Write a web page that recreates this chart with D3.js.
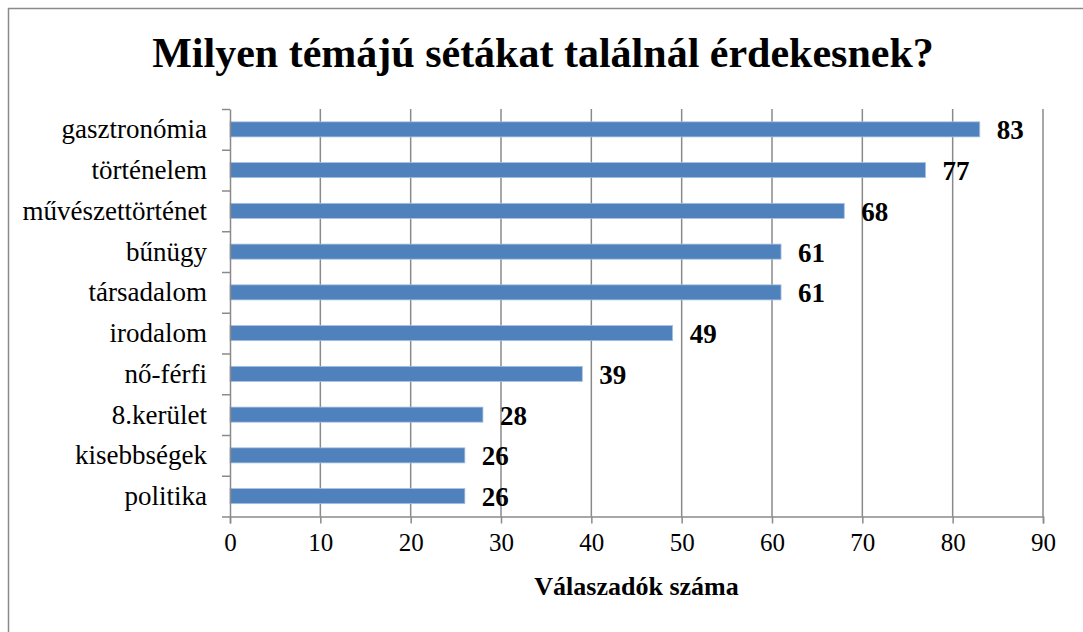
<!DOCTYPE html>
<html>
<head>
<meta charset="utf-8">
<script src="https://cdn.jsdelivr.net/npm/d3@7"></script>
<style>
    body { margin: 0; background: #fff; }
</style>
</head>
<body>
<div id="chart"></div>
<script>

// chart data (top to bottom)
let categories = ["gasztronómia", "történelem", "művészettörténet", "bűnügy", "társadalom",
    "irodalom", "nő-férfi", "8.kerület", "kisebbségek", "politika"];
let counts = [83, 77, 68, 61, 61, 49, 39, 28, 26, 26];
let xTicks = [0, 10, 20, 30, 40, 50, 60, 70, 80, 90];

let chartTitle = "Milyen témájú sétákat találnál érdekesnek?";
let xTitle = "Válaszadók száma";

let serif = "Liberation Serif";
let width = 1083, height = 632;
let plot = { left: 230, right: 1043, top: 109, bottom: 516.5 };

let svg = d3.select("#chart").append("svg")
    .attr("width", width)
    .attr("height", height);

// outer frame (runs off the right and bottom edges)
svg.append("rect")
    .attr("x", 8.5)
    .attr("y", 8.5)
    .attr("width", width + 20)
    .attr("height", height + 20)
    .attr("fill", "none")
    .attr("stroke", "#8a8a8a")
    .attr("stroke-width", 1.5);

// Scales
let x = d3.scaleLinear()
    .domain([0, 90])
    .range([plot.left, plot.right]);

let y = d3.scaleBand()
    .domain(categories)
    .range([plot.top, plot.bottom])
    .paddingInner(0.63)
    .paddingOuter(0.315);

let yEdge = d3.scaleLinear()
    .domain([0, categories.length])
    .range([plot.top, plot.bottom]);

// vertical gridlines
svg.append("g")
    .attr("class", "grid")
    .selectAll("line")
    .data(xTicks.slice(1))
    .enter()
    .append("line")
    .attr("x1", d => x(d))
    .attr("x2", d => x(d))
    .attr("y1", plot.top)
    .attr("y2", plot.bottom)
    .attr("stroke", "#8a8a8a")
    .attr("stroke-width", 1.5);

// bars
svg.append("g")
    .selectAll("rect")
    .data(counts)
    .enter()
    .append("rect")
    .attr("x", x(0))
    .attr("y", (d, i) => y(categories[i]))
    .attr("width", d => x(d) - x(0))
    .attr("height", y.bandwidth())
    .attr("fill", "#4f81bd")
    .attr("stroke", "#a9c1e0")
    .attr("stroke-width", 0.8);

// x axis
let xAxis = d3.axisBottom(x)
    .tickValues(xTicks)
    .tickSize(7)
    .tickPadding(10);

let gx = svg.append("g")
    .attr("transform", "translate(0," + plot.bottom + ")")
    .call(xAxis);
gx.select(".domain").attr("stroke", "#8a8a8a").attr("stroke-width", 1.5);
gx.selectAll(".tick line").attr("stroke", "#8a8a8a").attr("stroke-width", 1.5);
gx.selectAll(".tick text")
    .style("font-family", serif)
    .style("font-size", "25px")
    .attr("fill", "#000")
    .attr("dy", "0.71em");

// y axis with ticks between categories
let yAxis = d3.axisLeft(yEdge)
    .tickValues(d3.range(categories.length + 1))
    .tickFormat("")
    .tickSize(8)
    .tickSizeOuter(0);

let gy = svg.append("g")
    .attr("transform", "translate(" + plot.left + ",0)")
    .call(yAxis);
gy.select(".domain").attr("stroke", "#8a8a8a").attr("stroke-width", 1.5);
gy.selectAll(".tick line").attr("stroke", "#8a8a8a").attr("stroke-width", 1.5);

// category labels
svg.append("g")
    .selectAll("text")
    .data(categories)
    .enter()
    .append("text")
    .attr("x", plot.left - 23)
    .attr("y", d => y(d) + y.bandwidth() / 2 + 9)
    .attr("text-anchor", "end")
    .style("font-family", serif)
    .style("font-size", "27px")
    .text(d => d);

// value labels
svg.append("g")
    .selectAll("text")
    .data(counts)
    .enter()
    .append("text")
    .attr("x", d => x(d) + 17)
    .attr("y", (d, i) => y(categories[i]) + y.bandwidth() / 2 + 10)
    .style("font-family", serif)
    .style("font-size", "27px")
    .style("font-weight", "bold")
    .text(d => d);

// titles
svg.append("text")
    .attr("x", 543)
    .attr("y", 67)
    .attr("text-anchor", "middle")
    .style("font-family", serif)
    .style("font-size", "42px")
    .style("font-weight", "bold")
    .text(chartTitle);

svg.append("text")
    .attr("x", (plot.left + plot.right) / 2)
    .attr("y", 595)
    .attr("text-anchor", "middle")
    .style("font-family", serif)
    .style("font-size", "26px")
    .style("font-weight", "bold")
    .text(xTitle);

</script>
</body>
</html>
